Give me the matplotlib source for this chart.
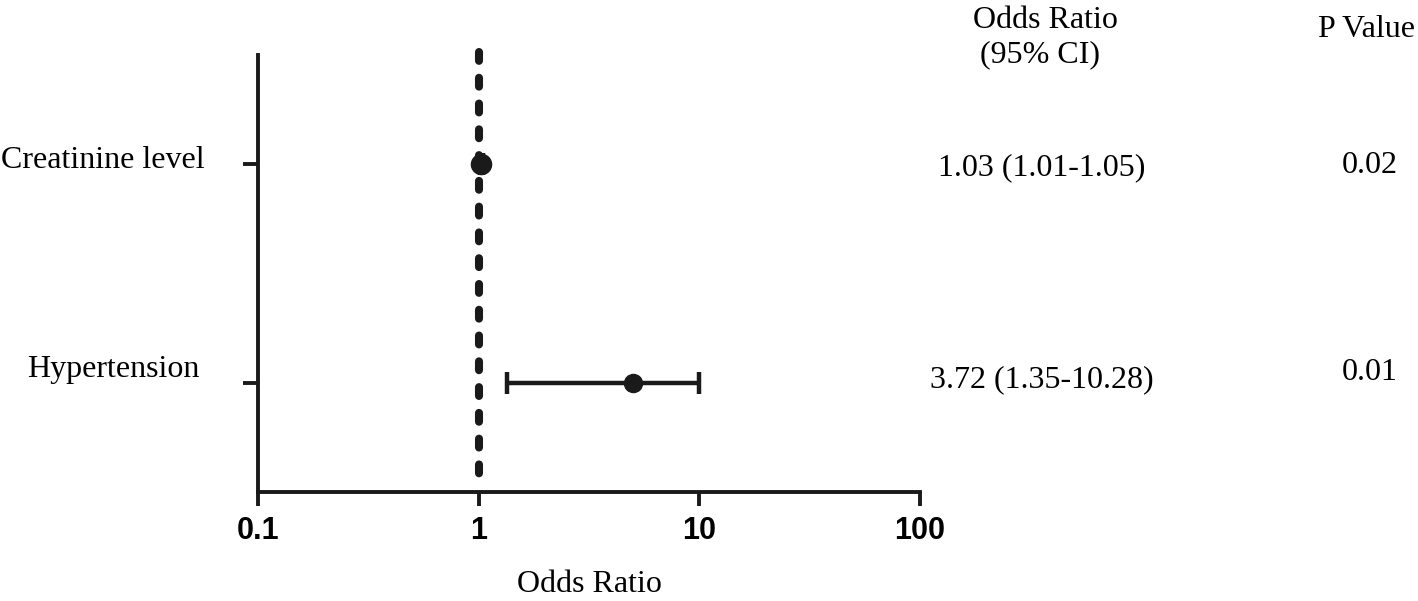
import matplotlib.pyplot as plt

# data
factors = ["Creatinine level", "Hypertension"]
or_text = ["1.03 (1.01-1.05)", "3.72 (1.35-10.28)"]
p_text = ["0.02", "0.01"]
# where the marks sit on the log axis
or_point = [1.03, 5.0]
ci_low = [1.01, 1.34]
ci_high = [1.05, 10.0]
xticks = [0.1, 1, 10, 100]
xtick_labels = ["0.1", "1", "10", "100"]

rows = [1, 0]

serif = "Liberation Serif"
sans = "Liberation Sans"
ink = "#1a1a1a"

W, H = 1418, 601
fig = plt.figure(figsize=(W / 100, H / 100), dpi=100)
ax = fig.add_axes([258 / W, 1 - 492 / H, 662 / W, 437 / H])

ax.set_xscale("log")
ax.set_xlim(0.1, 100)
ax.set_ylim(-0.5, 1.5)

# reference line at OR = 1, dashes start from the top
ax.plot([1, 1], [1.515, -0.47], color=ink, lw=5.8,
        linestyle=(0, (1.1, 2.1)), dash_capstyle="round", zorder=2, clip_on=False)

for i in range(len(factors)):
    y = rows[i]
    err = [[or_point[i] - ci_low[i]], [ci_high[i] - or_point[i]]]
    ms = 14.5 if i == 0 else 13
    ax.errorbar([or_point[i]], [y], xerr=err, fmt="o", color=ink,
                ms=ms, elinewidth=3.2, capsize=8, capthick=3.2, zorder=3)

for s in ["top", "right"]:
    ax.spines[s].set_visible(False)
for s in ["left", "bottom"]:
    ax.spines[s].set_linewidth(2.8)
    ax.spines[s].set_color(ink)

ax.set_xticks(xticks)
ax.set_xticklabels(xtick_labels, fontfamily=sans, fontweight="bold", fontsize=22)
ax.minorticks_off()
ax.tick_params(axis="x", length=10, width=2.8, color=ink, pad=7)

ax.set_yticks(rows)
ax.set_yticklabels([])
ax.tick_params(axis="y", length=11, width=2.8, color=ink)

ax.set_xlabel("Odds Ratio", fontfamily=serif, fontsize=23, va="baseline")
ax.xaxis.set_label_coords(0.5, (492 - 592) / 437)

# row labels, baselines a little off their ticks
label_right = [205, 200]
label_base = [168, 377]
for i in range(len(factors)):
    fig.text(label_right[i] / W, 1 - label_base[i] / H, factors[i],
             ha="right", va="baseline", fontfamily=serif, fontsize=23)

# right-hand table
fig.text(1045 / W, 1 - 28 / H, "Odds Ratio", ha="center", va="baseline",
         fontfamily=serif, fontsize=23)
fig.text(1040 / W, 1 - 62 / H, "(95% CI)", ha="center", va="baseline",
         fontfamily=serif, fontsize=23)
fig.text(1366 / W, 1 - 37 / H, "P Value", ha="center", va="baseline",
         fontfamily=serif, fontsize=23)
or_base = [175, 387]
p_base = [173, 380]
for i in range(len(factors)):
    fig.text(1042 / W, 1 - or_base[i] / H, or_text[i], ha="center", va="baseline",
             fontfamily=serif, fontsize=23)
    fig.text(1370 / W, 1 - p_base[i] / H, p_text[i], ha="center", va="baseline",
             fontfamily=serif, fontsize=23)

fig.savefig("out.png", dpi=100)
